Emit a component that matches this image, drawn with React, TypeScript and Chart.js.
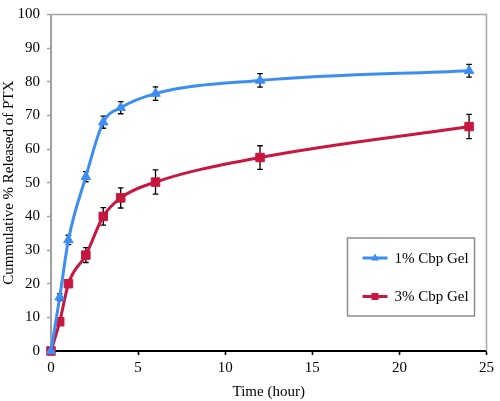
import React, { useEffect, useRef } from "react";
import { Chart, registerables } from "chart.js";

Chart.register(...registerables);

// ---- data ----
const times = [0, 0.5, 1, 2, 3, 4, 6, 12, 24];
const gel1Values = [0, 16, 33, 51.8, 68, 72.3, 76.5, 80.4, 83.3];
const gel1Errors = [0, 1, 1.4, 1.5, 1.8, 1.8, 2, 2, 1.9];
const gel3Values = [0, 8.7, 20, 28.5, 40, 45.5, 50.2, 57.5, 66.7];
const gel3Errors = [0, 0, 0, 2.2, 2.6, 3, 3.6, 3.5, 3.6];
const seriesLabels = ["1% Cbp Gel", "3% Cbp Gel"];
const xAxisTitle = "Time (hour)";
const yAxisTitle = "Cummulative % Released of PTX";

const FONT = "'Liberation Serif', 'Times New Roman', serif";
const BLUE = "#3d8ef2";
const RED = "#c8163e";

const errorBarPlugin = {
  id: "errorBars",
  beforeDatasetsDraw(chart: any) {
    const { ctx, chartArea, scales } = chart;
    const x = scales.x;
    const y = scales.y;
    ctx.save();
    // frame top/right
    ctx.strokeStyle = "#a6a6a6";
    ctx.lineWidth = 1.5;
    ctx.beginPath();
    ctx.moveTo(chartArea.left, chartArea.top);
    ctx.lineTo(chartArea.right, chartArea.top);
    ctx.lineTo(chartArea.right, chartArea.bottom);
    ctx.stroke();
    // error bars
    ctx.strokeStyle = "#000";
    ctx.lineWidth = 1.3;
    chart.data.datasets.forEach((ds: any) => {
      const errs: number[] = ds.errors;
      if (!errs) return;
      ds.data.forEach((p: any, i: number) => {
        const e = errs[i];
        if (!e) return;
        const px = x.getPixelForValue(p.x);
        const top = y.getPixelForValue(p.y + e);
        const bot = y.getPixelForValue(p.y - e);
        ctx.beginPath();
        ctx.moveTo(px, top);
        ctx.lineTo(px, bot);
        ctx.moveTo(px - 2.8, top);
        ctx.lineTo(px + 2.8, top);
        ctx.moveTo(px - 2.8, bot);
        ctx.lineTo(px + 2.8, bot);
        ctx.stroke();
      });
    });
    ctx.restore();
  },
};

const legendPlugin = {
  id: "boxLegend",
  afterDraw(chart: any) {
    const { ctx, chartArea } = chart;
    const w = 127;
    const h = 78;
    const right = chartArea.right - 12;
    const bottom = chartArea.bottom - 35;
    const left = right - w;
    const top = bottom - h;
    ctx.save();
    ctx.fillStyle = "#fff";
    ctx.fillRect(left, top, w, h);
    ctx.strokeStyle = "#8c8c8c";
    ctx.lineWidth = 1.5;
    ctx.strokeRect(left, top, w, h);
    const rows = [top + 20, top + 58.5];
    chart.data.datasets.forEach((ds: any, i: number) => {
      const cy = rows[i];
      const x0 = left + 15;
      const x1 = left + 40;
      const cx = (x0 + x1) / 2;
      ctx.strokeStyle = ds.borderColor;
      ctx.lineWidth = 3;
      ctx.beginPath();
      ctx.moveTo(x0, cy);
      ctx.lineTo(x1, cy);
      ctx.stroke();
      ctx.fillStyle = ds.borderColor;
      if (ds.pointStyle === "triangle") {
        ctx.beginPath();
        ctx.moveTo(cx, cy - 4.5);
        ctx.lineTo(cx + 4, cy + 2.5);
        ctx.lineTo(cx - 4, cy + 2.5);
        ctx.closePath();
        ctx.fill();
      } else {
        ctx.fillRect(cx - 3.5, cy - 3.5, 7, 7);
      }
      ctx.fillStyle = "#000";
      ctx.font = `15px ${FONT}`;
      ctx.textAlign = "left";
      ctx.textBaseline = "middle";
      ctx.fillText(ds.label, left + 47, cy + 1);
    });
    ctx.restore();
  },
};

export default function App() {
  const canvasRef = useRef<HTMLCanvasElement | null>(null);

  useEffect(() => {
    if (!canvasRef.current) return;
    const tickFont = { family: FONT, size: 15, lineHeight: 1 };
    const chart = new Chart(canvasRef.current, {
      type: "line",
      data: {
        datasets: [
          {
            label: seriesLabels[0],
            data: times.map((t, i) => ({ x: t, y: gel1Values[i] })),
            errors: gel1Errors,
            borderColor: BLUE,
            backgroundColor: BLUE,
            borderWidth: 3,
            pointStyle: "triangle",
            pointRadius: 5.5,
            pointBorderWidth: 1,
            cubicInterpolationMode: "monotone",
            clip: false,
          } as any,
          {
            label: seriesLabels[1],
            data: times.map((t, i) => ({ x: t, y: gel3Values[i] })),
            errors: gel3Errors,
            borderColor: RED,
            backgroundColor: RED,
            borderWidth: 3,
            pointStyle: "rect",
            pointRadius: 6,
            pointBorderWidth: 1,
            cubicInterpolationMode: "monotone",
            clip: false,
          } as any,
        ],
      },
      options: {
        responsive: false,
        animation: false,
        devicePixelRatio: 1,
        layout: { padding: { top: 8, right: 9, left: 0, bottom: 0 } },
        plugins: {
          legend: { display: false },
          tooltip: { enabled: false },
        },
        scales: {
          x: {
            type: "linear",
            min: 0,
            max: 25,
            ticks: { stepSize: 5, font: tickFont, color: "#000", padding: 6 },
            grid: {
              drawOnChartArea: false,
              drawTicks: true,
              tickLength: 4,
              tickColor: "#000",
              tickWidth: 1.6,
            },
            border: { color: "#000", width: 2 },
            title: {
              display: true,
              text: xAxisTitle,
              font: { family: FONT, size: 15 },
              color: "#000",
              padding: { top: 0, bottom: 0 },
            },
            afterFit(scale: any) {
              scale.height = 50;
            },
          },
          y: {
            min: 0,
            max: 100,
            ticks: { stepSize: 10, font: tickFont, color: "#000", padding: 7 },
            grid: {
              drawOnChartArea: false,
              drawTicks: true,
              tickLength: 4,
              tickColor: "#a0a0a0",
              tickWidth: 1.5,
            },
            border: { color: "#a0a0a0", width: 2 },
            title: {
              display: true,
              text: yAxisTitle,
              font: { family: FONT, size: 15 },
              color: "#000",
              padding: { top: 0, bottom: 0 },
            },
            afterFit(scale: any) {
              scale.width = 51;
            },
          },
        },
      } as any,
      plugins: [errorBarPlugin, legendPlugin],
    });
    return () => chart.destroy();
  }, []);

  return (
    <div style={{ position: "fixed", left: 0, top: 0, width: 500, height: 401, background: "#fff" }}>
      <canvas ref={canvasRef} width={500} height={401} />
    </div>
  );
}
